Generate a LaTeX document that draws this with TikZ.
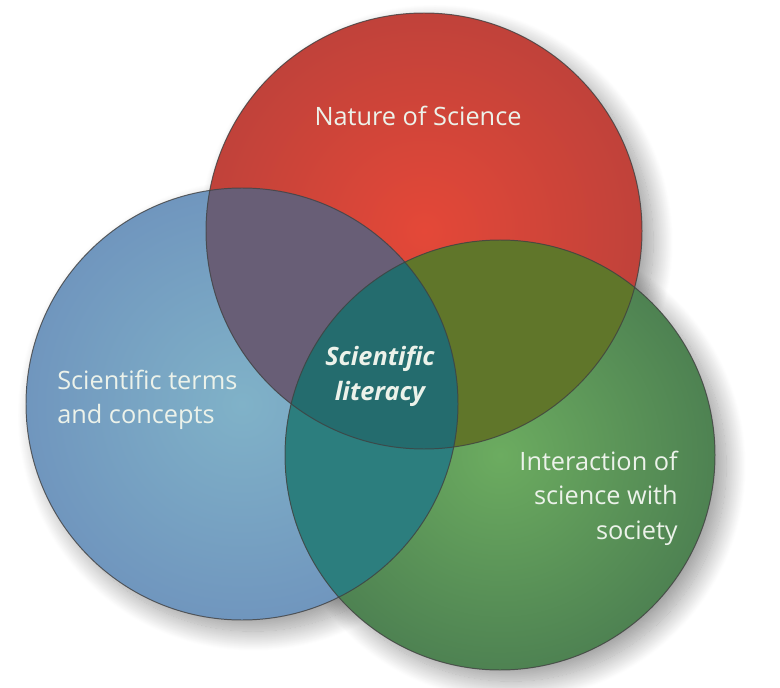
\documentclass[tikz,border=0pt]{standalone}
\usepackage{fontspec}
\setmainfont{Open Sans}
\usepackage{xcolor}
\usepackage{tikz}
\usetikzlibrary{shadows.blur}

\definecolor{redin}{RGB}{228,72,56}
\definecolor{redout}{RGB}{192,66,58}
\definecolor{bluein}{RGB}{128,178,200}
\definecolor{blueout}{RGB}{112,150,190}
\definecolor{greenin}{RGB}{108,172,96}
\definecolor{greenout}{RGB}{78,130,82}
\definecolor{redblue}{RGB}{104,94,118}
\definecolor{redgreen}{RGB}{96,118,42}
\definecolor{bluegreen}{RGB}{44,126,126}
\definecolor{allthree}{RGB}{36,108,110}
\definecolor{labeltext}{RGB}{236,242,234}

\tikzset{
  vennedge/.style={draw=black!75, line width=0.7pt, opacity=0.8},
  venntext/.style={text=labeltext, font=\fontsize{18}{24.5}\selectfont, inner sep=0pt},
  vennshadow/.style={blur shadow={shadow xshift=8pt, shadow yshift=-8pt, shadow blur radius=14pt, shadow blur steps=30, shadow opacity=40}}
}

\begin{document}
\begin{tikzpicture}[x=0.025cm, y=-0.025cm]
    \useasboundingbox (0,0) rectangle (780,688);
    \coordinate (nos) at (424,231); % Nature of Science
    \coordinate (stc) at (242,404); % Scientific terms
    \coordinate (iss) at (500,455); % Interaction with society

    \foreach \c/\r in {nos/218, stc/216, iss/215}
        \path[vennshadow] (\c) circle (\r); % soft shadows

    \shade[inner color=redin, outer color=redout] (nos) circle (218);
    \shade[inner color=bluein, outer color=blueout] (stc) circle (216);
    \shade[inner color=greenin, outer color=greenout] (iss) circle (215);

    \begin{scope} \clip (nos) circle (218); \fill[redblue] (stc) circle (216); \end{scope}
    \begin{scope} \clip (nos) circle (218); \fill[redgreen] (iss) circle (215); \end{scope}
    \begin{scope} \clip (stc) circle (216); \fill[bluegreen] (iss) circle (215); \end{scope}
    \begin{scope} \clip (nos) circle (218); \clip (stc) circle (216); \fill[allthree] (iss) circle (215); \end{scope}

    \draw[vennedge] (nos) circle (218);
    \draw[vennedge] (stc) circle (216);
    \draw[vennedge] (iss) circle (215);

    \node[venntext] (nature) at (418,116) {Nature of Science};
    \node[venntext, align=left, anchor=west] (terms) at (57,400) {Scientific terms\\and concepts};
    \node[venntext, align=center, font=\fontsize{18}{25}\selectfont\bfseries\itshape] (literacy) at (380,376) {Scientific\\literacy};
    \node[venntext, align=right, anchor=east] (society) at (678,498) {Interaction of\\science with\\society};
\end{tikzpicture}
\end{document}
